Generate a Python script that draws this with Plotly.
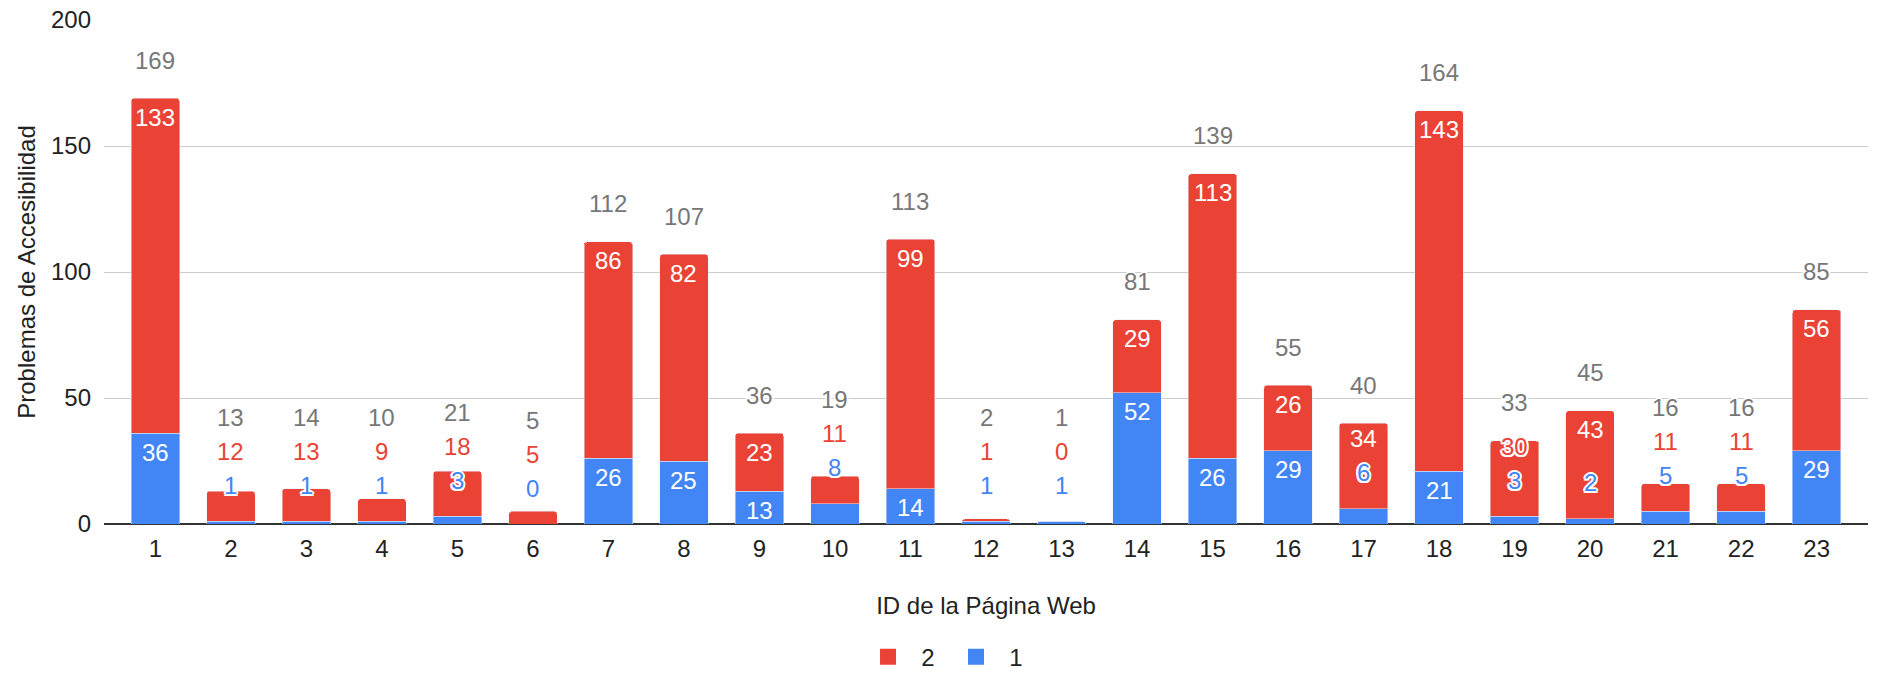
import plotly.graph_objects as go

# datos
page_ids = list(range(1, 24))
nivel_1 = [36, 1, 1, 1, 3, 0, 26, 25, 13, 8, 14, 1, 1, 52, 26, 29, 6, 21, 3, 2, 5, 5, 29]
nivel_2 = [133, 12, 13, 9, 18, 5, 86, 82, 23, 11, 99, 1, 0, 29, 113, 26, 34, 143, 30, 43, 11, 11, 56]

BLUE = "#4285F4"
RED = "#EA4335"
GREY = "#777777"
FONT = "Arial, 'Liberation Sans', sans-serif"

W, H = 1877, 675
MT, MB, ML, MR = 20, 151, 104, 9
Y_MAX = 200
px_per_unit = (H - MT - MB) / Y_MAX

HALO = ("-2px 0 0 #fff, 2px 0 0 #fff, 0 -2px 0 #fff, 0 2px 0 #fff, "
        "-1.5px -1.5px 0 #fff, 1.5px 1.5px 0 #fff, -1.5px 1.5px 0 #fff, 1.5px -1.5px 0 #fff")

fig = go.Figure()
fig.add_trace(go.Bar(x=page_ids, y=nivel_1, name="1", marker_color=BLUE, width=0.64,
                     showlegend=False))
fig.add_trace(go.Bar(x=page_ids, y=nivel_2, name="2", marker_color=RED, width=0.64,
                     showlegend=False))
# leyenda con cuadrados grandes como en Google Charts
for name, col in (("2", RED), ("1", BLUE)):
    fig.add_trace(go.Scatter(x=[None], y=[None], mode="markers", name="\u00a0\u00a0" + name,
                             marker=dict(symbol="square", size=22, color=col)))

# etiquetas de datos estilo Google Charts (dentro si cabe, si no encima y apiladas)
annotations = []
for pid, a, b in zip(page_ids, nivel_1, nivel_2):
    base = 0
    prev = None
    for val, col in ((a, BLUE), (b, RED)):
        top = (base + val) * px_per_unit
        seg = val * px_per_unit
        inside = seg >= 30
        yp = top - 19 if inside else top + 36
        if prev is not None and yp < prev + 34:
            yp = prev + 34
        if inside and yp > top - 11:
            inside = False
        annotations.append(dict(
            x=pid, y=0, yref="y", yshift=yp, yanchor="middle", showarrow=False, text=str(val),
            font=dict(family=FONT, size=24, color="white" if inside else col,
                      shadow="none" if inside else HALO)))
        prev = yp
        base += val
    total = a + b
    yt = max(total * px_per_unit + 38, prev + 34)
    annotations.append(dict(
        x=pid, y=0, yref="y", yshift=yt, yanchor="middle", showarrow=False, text=str(total),
        font=dict(family=FONT, size=24, color=GREY, shadow=HALO)))

fig.update_layout(
    barmode="stack",
    barcornerradius=3,
    width=W, height=H,
    margin=dict(l=ML, r=MR, t=MT, b=MB, autoexpand=False),
    plot_bgcolor="white",
    paper_bgcolor="white",
    font=dict(family=FONT, size=24, color="#222222"),
    annotations=annotations,
    legend=dict(orientation="h", x=0.483, xanchor="center", y=-0.264, yanchor="middle",
                traceorder="normal", itemsizing="trace", entrywidth=43,
                entrywidthmode="pixels", font=dict(size=24, color="#222222")),
    xaxis=dict(
        range=[0.32, 23.68], tickmode="array", tickvals=page_ids,
        ticktext=[str(p) for p in page_ids], showgrid=False, showline=False,
        zeroline=False, ticklabelstandoff=8, automargin=False,
        title=dict(text="ID de la Página Web", standoff=36, font=dict(size=24)),
    ),
    yaxis=dict(
        range=[0, Y_MAX], tickvals=[0, 50, 100, 150, 200], gridcolor="#cccccc",
        gridwidth=1, zeroline=True, zerolinecolor="#333333", zerolinewidth=2,
        ticklabelstandoff=12, automargin=False,
        title=dict(text="Problemas de Accesibilidad", standoff=8, font=dict(size=24)),
    ),
)

fig.write_html("out.html", config={"displayModeBar": False},
               post_script="document.body.style.margin='0';document.body.style.overflow='hidden';")
